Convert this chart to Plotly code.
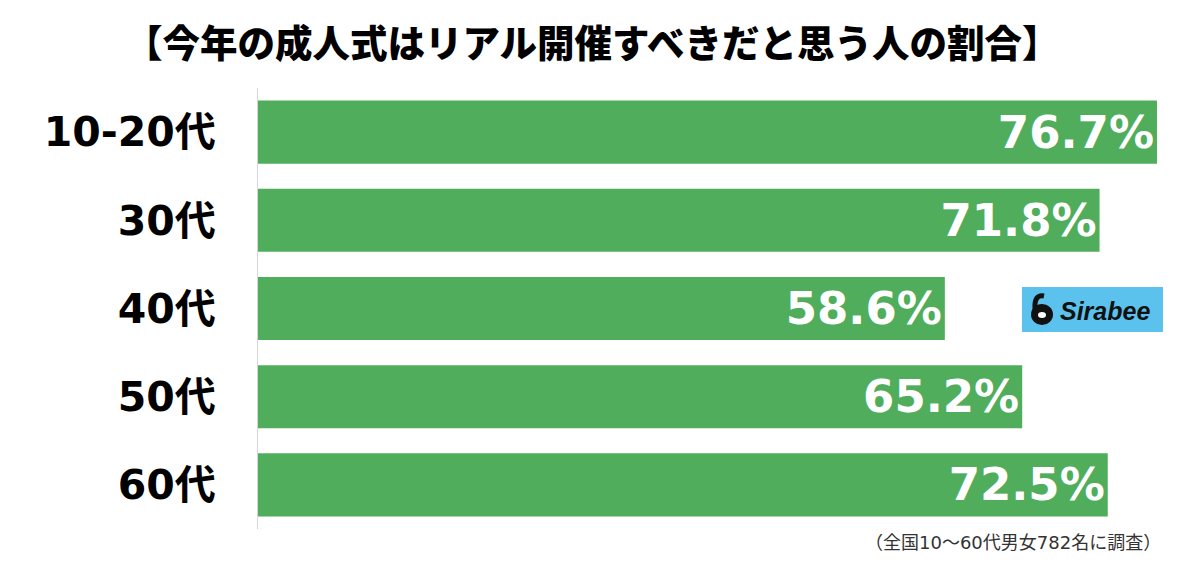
import plotly.graph_objects as go

categories = ["10-20代", "30代", "40代", "50代", "60代"]
values = [76.7, 71.8, 58.6, 65.2, 72.5]
labels = ["76.7%", "71.8%", "58.6%", "65.2%", "72.5%"]

title_text = "【今年の成人式はリアル開催すべきだと思う人の割合】"
note_text = "（全国10〜60代男女782名に調査）"

BAR = "#50AD5C"
FONT = "DejaVu Sans, Noto Sans CJK JP, sans-serif"

W, H = 1200, 563
L, R, T, B = 258, 0, 88, 34
PW, PH = W - L - R, H - T - B


def px(x):
    return (x - L) / PW


def py(y):
    return (H - B - y) / PH


fig = go.Figure(go.Bar(
    y=categories, x=values, orientation="h",
    marker=dict(color=BAR, line=dict(width=0)),
    text=labels, textposition="inside", insidetextanchor="end",
    textfont=dict(color="white", size=45, family=FONT, weight="bold"),
    textangle=0, cliponaxis=False,
))

fig.update_layout(
    width=W, height=H,
    margin=dict(l=L, r=R, t=T, b=B),
    paper_bgcolor="white", plot_bgcolor="white",
    bargap=0.285, showlegend=False,
    xaxis=dict(range=[0, 80.37], visible=False),
    yaxis=dict(
        categoryorder="array", categoryarray=categories,
        range=[4.5, -0.5],
        showline=True, linecolor="#d6d6d6", linewidth=1,
        ticks="", ticklabelstandoff=33,
        tickfont=dict(size=41, color="black", family=FONT, weight="bold"),
        showgrid=False, zeroline=False,
    ),
    annotations=[
        dict(text=title_text, xref="paper", yref="paper", x=px(592), y=py(40),
             xanchor="center", yanchor="middle", showarrow=False,
             font=dict(size=37.5, color="black", family="Noto Sans CJK JP", weight=900)),
        dict(text=note_text, xref="paper", yref="paper", x=px(1163), y=py(542),
             xanchor="right", yanchor="middle", showarrow=False,
             font=dict(size=18, color="#333333", family="DejaVu Sans, Noto Sans CJK JP")),
        dict(text="<b><i>Sirabee</i></b>", xref="paper", yref="paper", x=px(1058),
             y=py(311), xanchor="left", yanchor="middle", showarrow=False,
             font=dict(size=25, color="#111111", family="Liberation Sans")),
    ],
    shapes=[
        dict(type="rect", xref="paper", yref="paper", x0=px(1022), x1=px(1163),
             y0=py(332), y1=py(287), fillcolor="#5BC2EE", line=dict(width=0),
             layer="above"),
        dict(type="circle", xref="paper", yref="paper", x0=px(1031), x1=px(1053),
             y0=py(325), y1=py(304), fillcolor="#111111", line=dict(width=0),
             layer="above"),
        dict(type="path", xref="paper", yref="paper",
             path=f"M {px(1035)},{py(309)} Q {px(1034)},{py(294)} {px(1044)},{py(296)}",
             line=dict(color="#111111", width=5), layer="above"),
        dict(type="circle", xref="paper", yref="paper", x0=px(1038), x1=px(1046),
             y0=py(318), y1=py(312), fillcolor="white", line=dict(width=0),
             layer="above"),
    ],
)

fig.write_html("out.html")
